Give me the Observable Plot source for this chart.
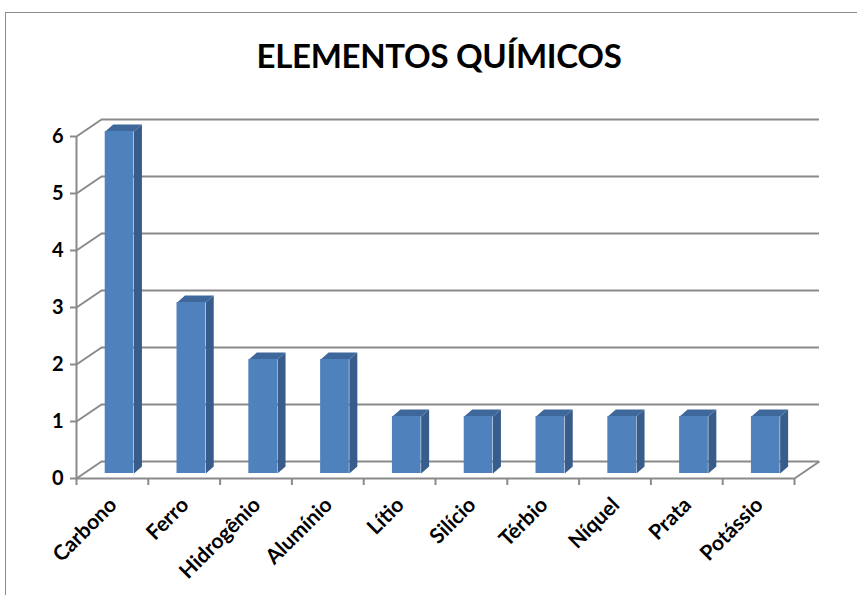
<!DOCTYPE html>
<html>
<head>
<meta charset="utf-8">
<script src="https://cdn.jsdelivr.net/npm/d3@7"></script>
<script src="https://cdn.jsdelivr.net/npm/@observablehq/plot@0.6"></script>
<style>
  html, body { margin: 0; padding: 0; background: #fff; overflow: hidden; }
  #frame { position: absolute; left: 5px; top: 12px; width: 900px; height: 700px; border: 1px solid #8c8c8c; box-sizing: border-box; }
  #title { position: absolute; left: 0; width: 878px; top: 35px; text-align: center; font-family: Lato, "Open Sans", sans-serif; font-weight: 700; font-size: 33px; color: #000; letter-spacing: -0.3px; }
  #chart { position: absolute; left: 0; top: 0; }
  #chart svg { font-family: Lato, "Open Sans", sans-serif; font-weight: 700; }
</style>
</head>
<body>
<div id="frame"></div>
<div id="title">ELEMENTOS QUÍMICOS</div>
<div id="chart"></div>
<script>
const categories = ["Carbono", "Ferro", "Hidrogênio", "Alumínio", "Lítio", "Silício", "Térbio", "Níquel", "Prata", "Potássio"];
const values = [6, 3, 2, 2, 1, 1, 1, 1, 1, 1];
const yTicks = [0, 1, 2, 3, 4, 5, 6];

const W = 857, H = 595;
const mL = 76, mR = 63, mT = 136, mB = 117;
const kx = (W - mL - mR) / categories.length; // px per category
const ky = (H - mT - mB) / 6;                 // px per unit

// 3D depth constants (pixels) converted to data units
const wallDx = 25 / kx, wallDy = 17 / ky;
const barDx = 8 / kx, barDy = 7 / ky;

const data = categories.map((c, i) => ({i, c, v: values[i]}));
const sides = data.flatMap(d => {
  const x2 = d.i + 0.8;
  return [
    {id: d.i, x: x2, y: 0},
    {id: d.i, x: x2, y: d.v},
    {id: d.i, x: x2 + barDx, y: d.v + barDy},
    {id: d.i, x: x2 + barDx, y: barDy}
  ];
});
const tops = data.flatMap(d => {
  const x1 = d.i + 0.4, x2 = d.i + 0.8;
  return [
    {id: d.i, x: x1, y: d.v},
    {id: d.i, x: x2, y: d.v},
    {id: d.i, x: x2 + barDx, y: d.v + barDy},
    {id: d.i, x: x1 + barDx, y: d.v + barDy}
  ];
});

const grid = "#8a8a8a";
const plot = Plot.plot({
  width: W, height: H,
  marginLeft: mL, marginRight: mR, marginTop: mT, marginBottom: mB,
  x: {type: "linear", domain: [0, categories.length]},
  y: {domain: [0, 6]},
  marks: [
    Plot.ruleY(yTicks, {x1: 0, x2: categories.length, dx: 25, dy: -17, stroke: grid, strokeWidth: 2}),
    Plot.link(yTicks, {x1: 0, y1: d => d, x2: wallDx, y2: d => d + wallDy, stroke: grid, strokeWidth: 2}),
    Plot.link([0], {x1: categories.length, y1: 0, x2: categories.length + wallDx, y2: wallDy, stroke: grid, strokeWidth: 2}),
    Plot.ruleY([0], {x1: 0, x2: categories.length, stroke: grid, strokeWidth: 2}),
    Plot.line(sides, {x: "x", y: "y", z: "id", fill: "#385d8a", stroke: "none", dy: -5, curve: "linear"}),
    Plot.line(tops, {x: "x", y: "y", z: "id", fill: "#3e679b", stroke: "none", dy: -5, curve: "linear"}),
    Plot.rectY(data, {x1: d => d.i + 0.4, x2: d => d.i + 0.8, y1: 0, y2: "v", fill: "#4f81bd", dy: -5}),
    Plot.ruleX([0], {y1: 0, y2: 6, stroke: grid, strokeWidth: 2}),
    Plot.axisY({ticks: yTicks, tickFormat: d3.format("d"), tickSize: 6, tickPadding: 7, fontSize: 20, fontWeight: "bold", stroke: grid, strokeWidth: 2, color: "#000", label: null}),
    Plot.axisX({ticks: d3.range(categories.length + 1), tickFormat: () => "", tickSize: 7, stroke: grid, strokeWidth: 2, label: null}),
    Plot.text(data, {x: d => d.i + 0.5, y: 0, text: "c", rotate: -45, textAnchor: "end", dx: 1, dy: 23, fontSize: 21, fontWeight: "bold", fill: "#000"})
  ]
});
document.getElementById("chart").appendChild(plot);
</script>
</body>
</html>
